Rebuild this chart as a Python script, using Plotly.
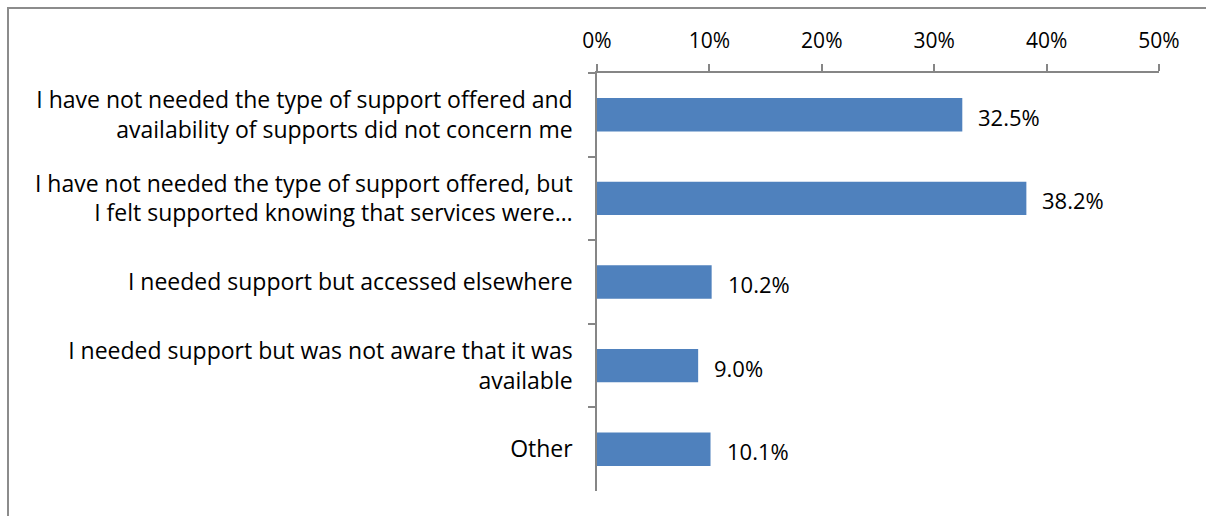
import plotly.graph_objects as go

categories = [
    "I have not needed the type of support offered and<br>availability of supports did not concern me",
    "I have not needed the type of support offered, but<br>I felt supported knowing that services were…",
    "I needed support but accessed elsewhere",
    "I needed support but was not aware that it was<br>available",
    "Other",
]
values = [32.5, 38.2, 10.2, 9.0, 10.1]
tick_vals = [0, 10, 20, 30, 40, 50]
tick_text = ["0%", "10%", "20%", "30%", "40%", "50%"]

W, H = 1206, 516
ML, MR, MT, MB = 597, 47, 73, 25
FONT = "Open Sans"
AXIS_COLOR = "#868686"

fig = go.Figure(
    go.Bar(
        x=values,
        y=categories,
        orientation="h",
        width=0.4,
        marker=dict(color="#4F81BD", line=dict(width=0)),
        hoverinfo="skip",
    )
)

# value labels to the right of each bar
for cat, v in zip(categories, values):
    fig.add_annotation(
        x=v, y=cat, text=f"{v:.1f}%", showarrow=False,
        xanchor="left", yanchor="middle", xshift=14, yshift=-2,
        font=dict(family=FONT, size=22, color="#000000"),
    )

pw = W - ML - MR
ph = H - MT - MB
# outer chart border (extends off the bottom/right edge)
fig.add_shape(
    type="rect", xref="paper", yref="paper",
    x0=(8 - ML) / pw, x1=(W + 10 - ML) / pw,
    y0=-(H + 10 - MT - ph) / ph, y1=1 + (MT - 8) / ph,
    line=dict(color="#8c8c8c", width=2), fillcolor="rgba(0,0,0,0)", layer="below",
)

fig.update_layout(
    width=W, height=H,
    margin=dict(l=ML, r=MR, t=MT, b=MB, pad=0),
    paper_bgcolor="white", plot_bgcolor="white",
    showlegend=False,
    font=dict(family=FONT, size=22, color="#000000"),
    xaxis=dict(
        side="top", range=[0, 50], tickvals=tick_vals, ticktext=tick_text,
        showgrid=False, zeroline=False,
        showline=True, linecolor=AXIS_COLOR, linewidth=1.5,
        ticks="outside", ticklen=7, tickcolor=AXIS_COLOR, tickwidth=1.5,
        ticklabelstandoff=8,
        tickfont=dict(family=FONT, size=21, color="#000000"),
    ),
    yaxis=dict(
        autorange="reversed", showgrid=False, zeroline=False,
        showline=True, linecolor=AXIS_COLOR, linewidth=1.5,
        ticks="outside", ticklen=7, tickcolor=AXIS_COLOR, tickwidth=1.5,
        tickson="boundaries", ticklabelstandoff=18,
        tickfont=dict(family=FONT, size=23, color="#000000"),
    ),
)

fig.write_html("out.html")
